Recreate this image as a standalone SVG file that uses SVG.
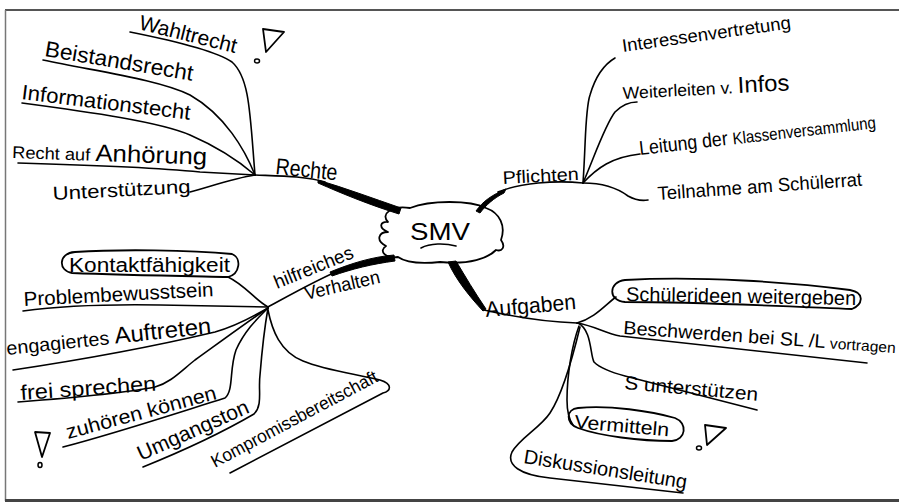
<svg xmlns="http://www.w3.org/2000/svg" width="899" height="502" viewBox="0 0 899 502">
<style>
.t{font-family:"Liberation Sans",Arial,sans-serif;fill:#000}
.c{fill:none;stroke:#000;stroke-width:1.6;stroke-linecap:round;stroke-linejoin:round}
.f{fill:#000;stroke:#000;stroke-width:1;stroke-linejoin:round}
.ic{fill:none;stroke:#000;stroke-width:1.8;stroke-linejoin:round}
</style>
<rect x="0" y="0" width="899" height="502" fill="#fff"/>
<g id="frame" fill="none">
<line x1="5" y1="10" x2="899" y2="10" stroke="#555" stroke-width="2"/>
<line x1="5.5" y1="10" x2="5.5" y2="501" stroke="#777" stroke-width="1.5"/>
<line x1="5" y1="500.5" x2="899" y2="500.5" stroke="#444" stroke-width="3"/>
</g>
<g id="connectors">
<path class="c" d="M130,32 C170,40 215,50 232,62 C250,78 250,115 255,175"/>
<path class="c" d="M43,60 C100,72 160,80 190,95 C225,115 245,150 255,175"/>
<path class="c" d="M22,103 C90,112 160,122 190,135 C220,148 240,162 255,175"/>
<path class="c" d="M18,163 C90,165 160,168 200,172 L255,175"/>
<path class="c" d="M190,192 C215,185 235,178 255,175"/>
<path class="c" d="M255,175 C280,176 305,176 325,182"/>
<path class="f" d="M318,180 C345,188 372,198 401,208 L399,214 C370,205 343,194 318,183 Z"/>
<path class="c" d="M498,192 C520,183 555,180 583,183"/>
<path class="f" d="M476,211 C483,201 492,195 506,189 L504,193 C494,198 486,205 480,213 Z"/>
<path class="c" d="M583,183 C586,140 585,110 590,95 C595,78 603,65 615,58"/>
<path class="c" d="M583,183 C595,155 605,125 615,112 C622,105 630,102 637,102"/>
<path class="c" d="M583,183 C597,168 612,157 640,154"/>
<path class="c" d="M583,183 C605,183 620,190 628,196 C635,200 642,201 648,200"/>
<path class="f" d="M448,262 L456,261 C465,276 475,293 486,309 L483,311 C470,297 456,280 448,262 Z"/>
<path class="c" d="M484,310 C510,316 545,322 577,323"/>
<path class="c" d="M577,323 C595,318 605,305 616,297"/>
<path class="c" d="M577,323 C595,326 605,333 620,336 L867,363"/>
<path class="c" d="M578,323 C592,330 590,355 594,362 C600,368 610,372 625,376 L757,410"/>
<path class="c" d="M579,326 C572,345 567,375 567,400 C567,410 568,418 573,425"/>
<path class="c" d="M580,327 C572,360 562,395 550,413 C540,428 520,438 512,452 C506,465 520,475 550,478 L683,493"/>
<path class="c" d="M268,307 C290,295 320,278 345,268"/>
<path class="f" d="M330,272 C352,263 372,257 394,255 L395,261 C372,264 352,269 332,276 Z"/>
<path class="c" d="M228,277 C245,285 255,300 268,307"/>
<path class="c" d="M23,311 C60,306 100,304 160,305 L268,307"/>
<path class="c" d="M13,370 C80,360 160,345 215,332 C240,325 255,315 268,308"/>
<path class="c" d="M18,402 C70,398 130,392 155,387 C170,383 180,372 195,360 C220,342 250,320 268,308"/>
<path class="c" d="M63,447 C120,432 180,412 225,398 C234,390 229,370 236,350 C245,330 258,318 268,308"/>
<path class="c" d="M143,467 C190,448 230,428 254,414 C263,405 258,390 260,375 C262,350 265,325 268,308"/>
<path class="c" d="M268,310 C272,330 280,352 303,361 C325,370 350,373 380,380 C393,384 391,391 383,393 L230,473"/>
</g>
<g id="smv">
<path class="ic" d="M388,222 C380,214 392,205 410,208 C430,200 470,200 486,208 C500,213 506,226 501,240 C506,247 502,252 496,250 C488,258 470,265 440,262 C420,264 405,262 398,257 C386,259 378,251 386,246 C375,240 379,232 388,232 C378,228 380,221 388,222 Z"/>
<text class="t" x="410" y="240" font-size="24" textLength="60" lengthAdjust="spacingAndGlyphs">SMV</text>
<path class="c" d="M421,248 C430,243 445,243 456,246"/>
</g>
<g id="rechte">
<text class="t" x="275" y="174" font-size="23" textLength="62" lengthAdjust="spacingAndGlyphs" transform="rotate(6 275 174)">Rechte</text>
</g>
<g id="wahlrecht">
<text class="t" x="138" y="29" font-size="21" textLength="100" lengthAdjust="spacingAndGlyphs" transform="rotate(14 138 29)">Wahltrecht</text>
<path class="ic" d="M263,29 L284,32 L266,52 Z"/>
<ellipse cx="257" cy="61" rx="2.5" ry="2" fill="none" stroke="#000" stroke-width="1.5"/>
</g>
<g id="beistandsrecht">
<text class="t" x="44" y="56" font-size="22" textLength="150" lengthAdjust="spacingAndGlyphs" transform="rotate(9.5 44 56)">Beistandsrecht</text>
</g>
<g id="informationsrecht">
<text class="t" x="21" y="99" font-size="21" textLength="170" lengthAdjust="spacingAndGlyphs" transform="rotate(7 21 99)">Informationstecht</text>
</g>
<g id="anhoerung">
<text class="t" x="12" y="158" font-size="17" transform="rotate(2 12 158)" textLength="195" lengthAdjust="spacingAndGlyphs">Recht auf <tspan font-size="24">Anhörung</tspan></text>
</g>
<g id="unterstuetzung">
<text class="t" x="53" y="200" font-size="19" textLength="138" lengthAdjust="spacingAndGlyphs" transform="rotate(-3 53 200)">Unterstützung</text>
</g>
<g id="pflichten">
<text class="t" x="503" y="184" font-size="18" textLength="76" lengthAdjust="spacingAndGlyphs" transform="rotate(-3 503 184)">Pflichten</text>
</g>
<g id="interessen">
<text class="t" x="623" y="52" font-size="18" textLength="170" lengthAdjust="spacingAndGlyphs" transform="rotate(-8 623 52)">Interessenvertretung</text>
</g>
<g id="weiterleiten">
<text class="t" x="623" y="99" font-size="17" textLength="167" lengthAdjust="spacingAndGlyphs" transform="rotate(-3 623 99)">Weiterleiten v. <tspan font-size="23">Infos</tspan></text>
</g>
<g id="leitung">
<text class="t" x="640" y="155" font-size="20" textLength="238" lengthAdjust="spacingAndGlyphs" transform="rotate(-6.5 640 155)">Leitung der <tspan font-size="17">Klassenversammlung</tspan></text>
</g>
<g id="teilnahme">
<text class="t" x="658" y="200" font-size="19" textLength="205" lengthAdjust="spacingAndGlyphs" transform="rotate(-4 658 200)">Teilnahme am Schülerrat</text>
</g>
<g id="aufgaben">
<text class="t" x="486" y="317" font-size="22" textLength="91" lengthAdjust="spacingAndGlyphs" transform="rotate(-5 486 317)">Aufgaben</text>
</g>
<g id="schuelerideen">
<path class="ic" d="M625,280 C700,276 790,282 850,290 C866,293 862,305 852,309 C780,306 700,302 625,302 C608,301 608,282 625,280 Z"/>
<text class="t" x="626" y="301" font-size="20" textLength="230" lengthAdjust="spacingAndGlyphs" transform="rotate(1 626 301)">Schülerideen weitergeben</text>
</g>
<g id="beschwerden">
<text class="t" x="623" y="334" font-size="19" textLength="273" lengthAdjust="spacingAndGlyphs" transform="rotate(4 623 334)">Beschwerden bei SL /L <tspan font-size="15">vortragen</tspan></text>
</g>
<g id="unterstuetzen">
<text class="t" x="624" y="389" font-size="19" textLength="134" lengthAdjust="spacingAndGlyphs" transform="rotate(5 624 389)">S unterstützen</text>
</g>
<g id="vermitteln">
<path class="ic" d="M578,408 C610,405 650,411 675,418 C688,423 686,440 672,441 C640,441 600,436 578,428 C565,423 566,409 578,408 Z"/>
<text class="t" x="574" y="428" font-size="19" textLength="95" lengthAdjust="spacingAndGlyphs" transform="rotate(5 574 428)">Vermitteln</text>
<path class="ic" d="M705,425 L726,428 L707,445 Z"/>
<ellipse cx="699" cy="448" rx="2.5" ry="2" fill="none" stroke="#000" stroke-width="1.5"/>
</g>
<g id="diskussion">
<text class="t" x="523" y="463" font-size="20" textLength="165" lengthAdjust="spacingAndGlyphs" transform="rotate(9 523 463)">Diskussionsleitung</text>
</g>
<g id="verhalten">
<text class="t" x="277" y="289" font-size="19" textLength="84" lengthAdjust="spacingAndGlyphs" transform="rotate(-22 277 289)">hilfreiches</text>
<text class="t" x="306" y="300" font-size="19" textLength="77" lengthAdjust="spacingAndGlyphs" transform="rotate(-13 306 300)">Verhalten</text>
</g>
<g id="kontakt">
<path class="ic" d="M75,252 C120,249 190,250 232,254 C242,258 240,274 228,277 C180,276 120,275 72,273 C58,271 58,253 75,252 Z"/>
<text class="t" x="69" y="272" font-size="20" textLength="161" lengthAdjust="spacingAndGlyphs">Kontaktfähigkeit</text>
</g>
<g id="problem">
<text class="t" x="24" y="306" font-size="20" textLength="190" lengthAdjust="spacingAndGlyphs" transform="rotate(-3 24 306)">Problembewusstsein</text>
</g>
<g id="engagiert">
<text class="t" x="7" y="355" font-size="19" textLength="206" lengthAdjust="spacingAndGlyphs" transform="rotate(-6 7 355)">engagiertes <tspan font-size="23">Auftreten</tspan></text>
</g>
<g id="frei">
<text class="t" x="21" y="400" font-size="21" textLength="136" lengthAdjust="spacingAndGlyphs" transform="rotate(-4 21 400)">frei  sprechen</text>
</g>
<g id="zuhoeren">
<text class="t" x="68" y="439" font-size="20" textLength="155" lengthAdjust="spacingAndGlyphs" transform="rotate(-15 68 439)">zuhören können</text>
<path class="ic" d="M35,432 L50,433 L42,457 Z"/>
<ellipse cx="40" cy="465" rx="2" ry="2.5" fill="none" stroke="#000" stroke-width="1.5"/>
</g>
<g id="umgangston">
<text class="t" x="141" y="461" font-size="21" textLength="120" lengthAdjust="spacingAndGlyphs" transform="rotate(-24 141 461)">Umgangston</text>
</g>
<g id="kompromiss">
<text class="t" x="215" y="468" font-size="18" textLength="186" lengthAdjust="spacingAndGlyphs" transform="rotate(-28 215 468)">Kompromissbereitschaft</text>
</g>
</svg>
